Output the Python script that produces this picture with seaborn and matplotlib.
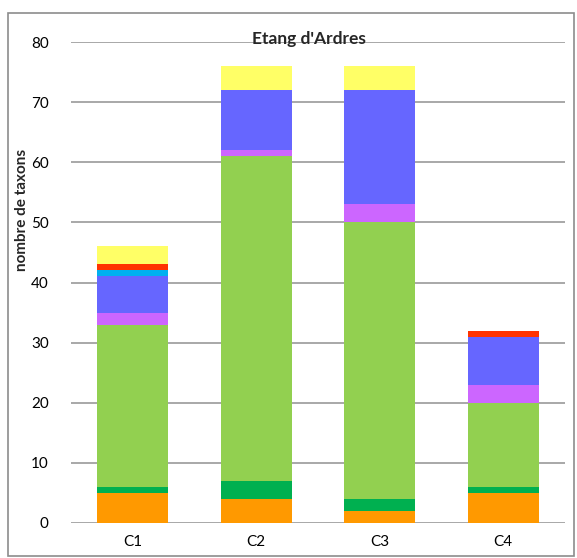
import numpy as np
import pandas as pd
import matplotlib
matplotlib.use("Agg")
import matplotlib.pyplot as plt
from matplotlib.patches import Rectangle
import seaborn as sns

# Stations and taxon counts per group (stack order bottom -> top)
stations = ["C1", "C2", "C3", "C4"]
orange = [5, 4, 2, 5]
dark_green = [1, 3, 2, 1]
light_green = [27, 54, 46, 14]
violet = [2, 1, 3, 3]
blue = [6, 10, 19, 8]
cyan = [1, 0, 0, 0]
red = [1, 0, 0, 1]
yellow = [3, 4, 4, 0]

layers = [orange, dark_green, light_green, violet, blue, cyan, red, yellow]
colors = ["#FF9900", "#00B050", "#92D050", "#CC66FF", "#6666FF",
          "#00B0F0", "#FF3300", "#FFFF66"]

sns.set_theme(style="white")
plt.rcParams["font.family"] = ["Lato", "DejaVu Sans"]

fig = plt.figure(figsize=(5.77, 5.58), dpi=100)
ax = fig.add_axes([71 / 577, 1 - 523 / 558, (565 - 71) / 577, (523 - 42) / 558])

cum = np.cumsum(np.array(layers, dtype=float), axis=0)
# draw cumulative totals from the top layer down so each segment shows
for i in range(len(layers) - 1, -1, -1):
    df = pd.DataFrame({"station": stations, "total": cum[i]})
    sns.barplot(data=df, x="station", y="total", color=colors[i],
                width=0.575, saturation=1, linewidth=0, ax=ax, zorder=3)

ax.set_ylim(0, 80)
ax.set_yticks(range(0, 81, 10))
ax.yaxis.grid(True, color="#9A9A9A", linewidth=1.2, zorder=0)
ax.set_axisbelow(True)
for s in ax.spines.values():
    s.set_visible(False)
ax.tick_params(axis="both", length=0, labelsize=11, colors="#000000")
ax.tick_params(axis="y", pad=16)
ax.tick_params(axis="x", pad=9)
ax.set_xlabel("")
ax.set_ylabel("nombre de taxons", fontsize=11, fontweight="bold")
ax.yaxis.set_label_coords(-42 / 494, (523 - 210) / 481)

fig.text(309 / 577, 1 - 39 / 558, "Etang d'Ardres", ha="center", va="center",
         fontsize=12.5, fontweight="bold")

fig.patches.append(Rectangle((8 / 577, 2 / 558), 566 / 577, (558 - 15) / 558,
                             transform=fig.transFigure, fill=False,
                             edgecolor="#8C8C8C", linewidth=1.2))

fig.savefig("out.png", dpi=100)
